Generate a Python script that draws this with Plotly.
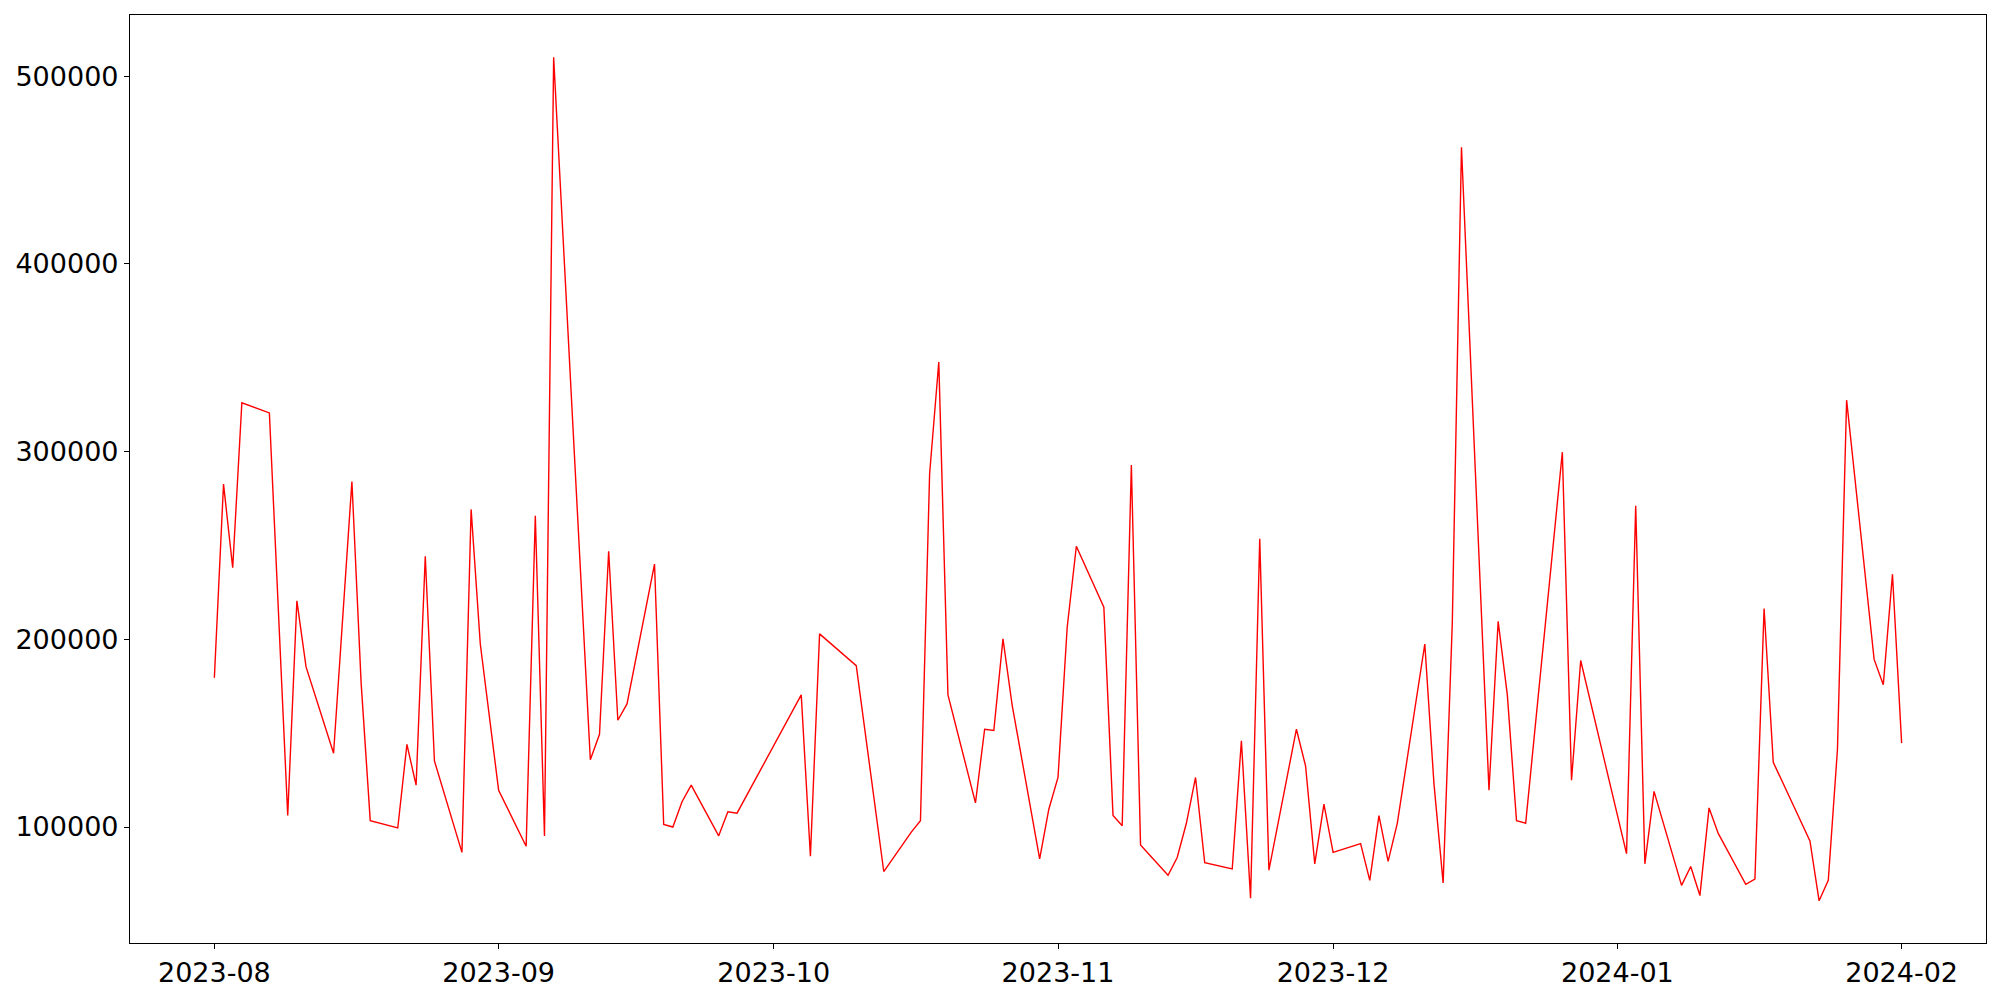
import pandas as pd
import plotly.graph_objects as go

# Dates de cotation (jours ouvrés, avec quelques trous)
dates = [
    "2023-08-01", "2023-08-02", "2023-08-03", "2023-08-04", "2023-08-07",
    "2023-08-09", "2023-08-10", "2023-08-11", "2023-08-14", "2023-08-16",
    "2023-08-17", "2023-08-18", "2023-08-21", "2023-08-22", "2023-08-23",
    "2023-08-24", "2023-08-25", "2023-08-28", "2023-08-29", "2023-08-30",
    "2023-09-01", "2023-09-04", "2023-09-05", "2023-09-06", "2023-09-07",
    "2023-09-11", "2023-09-12", "2023-09-13", "2023-09-14", "2023-09-15",
    "2023-09-18", "2023-09-19", "2023-09-20", "2023-09-21", "2023-09-22",
    "2023-09-25", "2023-09-26", "2023-09-27", "2023-10-04", "2023-10-05",
    "2023-10-06", "2023-10-10", "2023-10-13", "2023-10-16", "2023-10-17",
    "2023-10-18", "2023-10-19", "2023-10-20", "2023-10-23", "2023-10-24",
    "2023-10-25", "2023-10-26", "2023-10-27", "2023-10-30", "2023-10-31",
    "2023-11-01", "2023-11-02", "2023-11-03", "2023-11-06", "2023-11-07",
    "2023-11-08", "2023-11-09", "2023-11-10", "2023-11-13", "2023-11-14",
    "2023-11-15", "2023-11-16", "2023-11-17", "2023-11-20", "2023-11-21",
    "2023-11-22", "2023-11-23", "2023-11-24", "2023-11-27", "2023-11-28",
    "2023-11-29", "2023-11-30", "2023-12-01", "2023-12-04", "2023-12-05",
    "2023-12-06", "2023-12-07", "2023-12-08", "2023-12-11", "2023-12-12",
    "2023-12-13", "2023-12-14", "2023-12-15", "2023-12-18", "2023-12-19",
    "2023-12-20", "2023-12-21", "2023-12-22", "2023-12-26", "2023-12-27",
    "2023-12-28", "2024-01-02", "2024-01-03", "2024-01-04", "2024-01-05",
    "2024-01-08", "2024-01-09", "2024-01-10", "2024-01-11", "2024-01-12",
    "2024-01-15", "2024-01-16", "2024-01-17", "2024-01-18", "2024-01-22",
    "2024-01-23", "2024-01-24", "2024-01-25", "2024-01-26", "2024-01-29",
    "2024-01-30", "2024-01-31", "2024-02-01",
]

volume = [
    179500, 282700, 238100, 326000, 320600,
    106100, 220500, 185300, 139300, 284100,
    177200, 103400, 99500, 144000, 122300,
    244200, 135200, 86500, 269200, 197500,
    119600, 89800, 265800, 95300, 510100,
    135900, 149400, 246900, 156900, 165600,
    240100, 101400, 100000, 113500, 122300,
    95300, 108100, 107400, 170400, 84400,
    202900, 186000, 76300, 97300, 103400,
    288200, 347700, 170400, 112900, 152100,
    151400, 200200, 165000, 83100, 109500,
    126400, 206300, 249600, 217100, 106100,
    100700, 292900, 90500, 74300, 83800,
    102000, 126400, 81000, 77700, 146000,
    62100, 253600, 77000, 152100, 132500,
    80400, 112200, 86500, 91200, 71600,
    106100, 81700, 102000, 197500, 123000,
    70200, 209000, 462100, 119600, 209600,
    170400, 103400, 102000, 299700, 125000,
    188700, 85800, 271200, 80400, 119000,
    68900, 79000, 63500, 110200, 96600,
    69500, 72300, 216400, 134500, 92600,
    60700, 71600, 141300, 327400, 189300,
    175800, 234700, 144700,
]

y_ticks = [100000, 200000, 300000, 400000, 500000]

x = pd.to_datetime(dates)
marge_x = (x.max() - x.min()) * 0.05
marge_y = (max(volume) - min(volume)) * 0.05

fig = go.Figure()

fig.add_trace(
    go.Scatter(
        x=x,
        y=volume,
        mode="lines",
        line=dict(color="red", width=1.4),
        showlegend=False
    )
)

# ==========================
# Mise en page
# ==========================
police = dict(family="DejaVu Sans", size=27, color="black")

fig.update_layout(
    width=2000,
    height=1000,
    paper_bgcolor="white",
    plot_bgcolor="white",
    margin=dict(l=130, r=14, t=15, b=53),
    font=police
)

fig.update_xaxes(
    range=[x.min() - marge_x, x.max() + marge_x],
    tickformat="%Y-%m",
    dtick="M1",
    tick0="2023-08-01",
    ticks="outside",
    ticklen=5,
    tickcolor="black",
    tickfont=police,
    showgrid=False,
    zeroline=False,
    showline=True,
    linecolor="black",
    linewidth=1.2,
    mirror=True
)

fig.update_yaxes(
    range=[min(volume) - marge_y, max(volume) + marge_y],
    tickvals=y_ticks,
    tickformat="d",
    ticks="outside",
    ticklen=5,
    tickcolor="black",
    tickfont=police,
    showgrid=False,
    zeroline=False,
    showline=True,
    linecolor="black",
    linewidth=1.2,
    mirror=True
)

# marge par défaut du <body> retirée pour caler la figure sur la fenêtre
fig.write_html(
    "out.html",
    config={"displayModeBar": False},
    post_script="document.body.style.margin='0';"
)
